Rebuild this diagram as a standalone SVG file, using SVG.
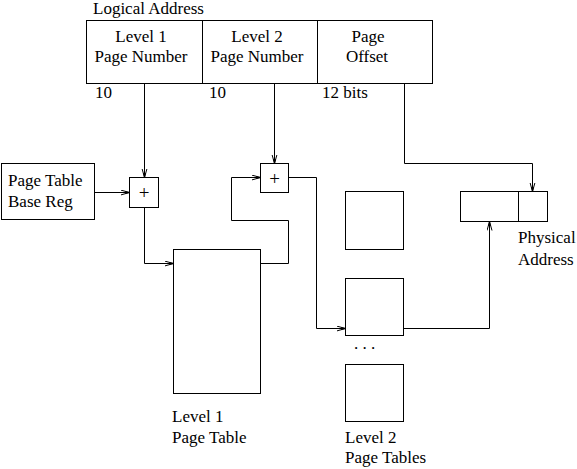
<svg xmlns="http://www.w3.org/2000/svg" width="577" height="469" viewBox="0 0 577 469" font-family="'Liberation Serif', 'Times New Roman', Times, serif" font-size="17">
<defs>
<marker id="arr" markerWidth="10" markerHeight="8" refX="9" refY="3" orient="auto" markerUnits="userSpaceOnUse">
<path d="M0,0.5 L9,3 L0,5.5" fill="none" stroke="#000" stroke-width="1"/>
<path d="M5,2 L9,3 L5,4 Z" fill="#000" stroke="#000" stroke-width="0.6"/>
</marker>
</defs>
<style>
text{font-family:'Liberation Serif','Times New Roman',Times,serif;font-size:17px;fill:#000}
.c{text-anchor:middle}
.p{font-size:19px}
.b{fill:#fff;stroke:#000;stroke-width:1}
.w{fill:none;stroke:#000;stroke-width:1}
</style>
<rect width="577" height="469" fill="#fff"/>
<g id="logical-address">
<text x="93" y="14">Logical Address</text>
<rect class="b" x="86.5" y="20.5" width="346" height="63"/>
<line class="w" x1="202.5" y1="20.5" x2="202.5" y2="83.5"/>
<line class="w" x1="317.5" y1="20.5" x2="317.5" y2="83.5"/>
<text class="c" x="141" y="42">Level 1</text>
<text class="c" x="141" y="62">Page Number</text>
<text class="c" x="257" y="42">Level 2</text>
<text class="c" x="257" y="62">Page Number</text>
<text class="c" x="368" y="42">Page</text>
<text class="c" x="367" y="62">Offset</text>
<text x="95" y="98">10</text>
<text x="209" y="98">10</text>
<text x="322" y="98">12 bits</text>
</g>
<g id="base-reg">
<rect class="b" x="1.5" y="163.5" width="93" height="56"/>
<text x="8" y="186">Page Table</text>
<text x="8" y="207">Base Reg</text>
</g>
<g id="adder1">
<rect class="b" x="129.5" y="177.5" width="29" height="30"/>
<text class="c p" x="144" y="199">+</text>
</g>
<g id="adder2">
<rect class="b" x="260.5" y="163.5" width="28" height="29"/>
<text class="c p" x="274.5" y="185">+</text>
</g>
<g id="level1-table">
<rect class="b" x="173.5" y="249.5" width="87" height="144"/>
<text x="172" y="422">Level 1</text>
<text x="172" y="443">Page Table</text>
</g>
<g id="level2-tables">
<rect class="b" x="345.5" y="191.5" width="58" height="58"/>
<rect class="b" x="345.5" y="278.5" width="58" height="57"/>
<text x="354" y="349">. . .</text>
<rect class="b" x="345.5" y="364.5" width="58" height="57"/>
<text x="345" y="443">Level 2</text>
<text x="345" y="463">Page Tables</text>
</g>
<g id="physical-address">
<rect class="b" x="460.5" y="191.5" width="87" height="30"/>
<line class="w" x1="518.5" y1="191.5" x2="518.5" y2="221.5"/>
<text x="518" y="243">Physical</text>
<text x="518" y="265">Address</text>
</g>
<g id="connectors" class="w">
<polyline class="w" points="144.5,83.5 144.5,177.5" marker-end="url(#arr)"/>
<polyline class="w" points="274.5,83.5 274.5,163.5" marker-end="url(#arr)"/>
<polyline class="w" points="404.5,83.5 404.5,163.5 532.5,163.5 532.5,191.5" marker-end="url(#arr)"/>
<polyline class="w" points="94.5,192.5 129.5,192.5" marker-end="url(#arr)"/>
<polyline class="w" points="144.5,207.5 144.5,263.5 173.5,263.5" marker-end="url(#arr)"/>
<polyline class="w" points="260.5,263.5 288.5,263.5 288.5,220.5 231.5,220.5 231.5,177.5 260.5,177.5" marker-end="url(#arr)"/>
<polyline class="w" points="288.5,177.5 316.5,177.5 316.5,328.5 345.5,328.5" marker-end="url(#arr)"/>
<polyline class="w" points="403.5,328.5 489.5,328.5 489.5,221.5" marker-end="url(#arr)"/>
</g>
</svg>
